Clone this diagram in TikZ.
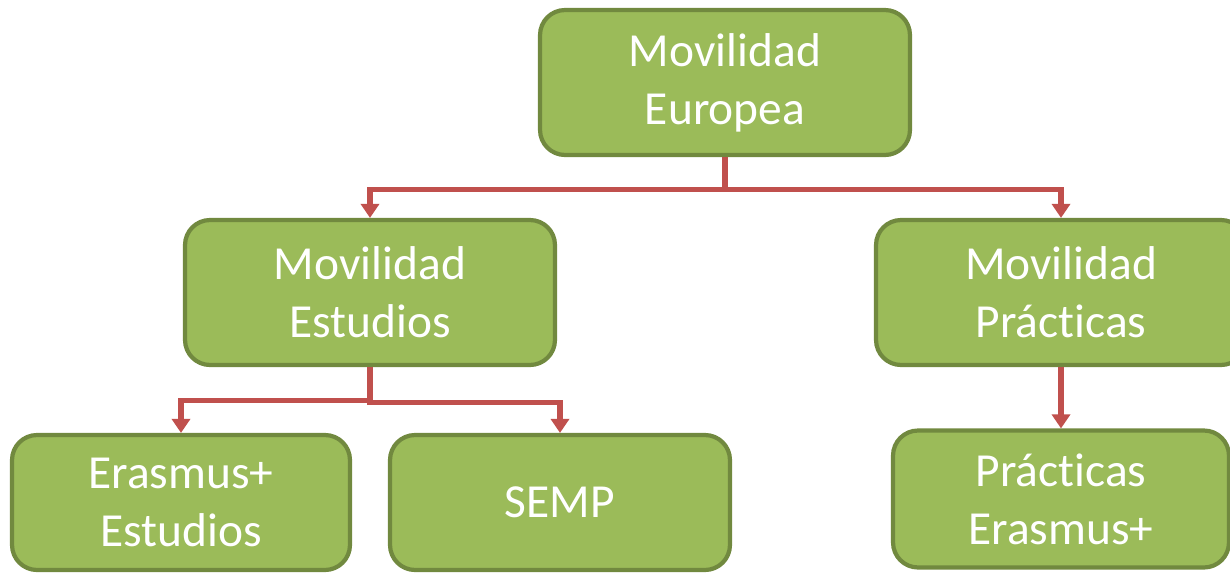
\documentclass[tikz,border=0pt]{standalone}
\usepackage{fontspec}
\setmainfont{Carlito}[Ligatures=NoCommon]
\usetikzlibrary{arrows.meta}

\definecolor{cajaverde}{HTML}{9BBB59}
\definecolor{bordeverde}{HTML}{71893F}
\definecolor{flecharoja}{HTML}{C0504D}

\begin{document}
\begin{tikzpicture}[x=0.02cm, y=-0.02cm,
    caja/.style={rectangle, rounded corners=0.5cm, fill=cajaverde, draw=bordeverde,
        line width=2.4pt, text=white, align=center, inner sep=0pt,
        font=\fontsize{27}{33}\selectfont},
    flecha/.style={draw=flecharoja, line width=2.9pt,
        -{Triangle[length=0.28cm, width=0.36cm]}}]
                \useasboundingbox (0,0) rectangle (1230,572);

                % Los nodos
                \node[caja, minimum width=7.4cm, minimum height=2.9cm] (europa) at (725, 82.5) {Movilidad\\Europea};
                \node[caja, minimum width=7.4cm, minimum height=2.9cm] (estudios) at (370, 292.5) {Movilidad\\Estudios};
                \node[caja, minimum width=7.4cm, minimum height=2.9cm] (practicas) at (1061, 292.5) {Movilidad\\Prácticas};
                \node[caja, minimum width=6.76cm, minimum height=2.7cm] (erasmus) at (181, 502.5) {Erasmus+\\Estudios};
                \node[caja, minimum width=6.8cm, minimum height=2.7cm] (semp) at (560, 502.5) {SEMP};
                \node[caja, minimum width=6.72cm, minimum height=2.74cm] (pracera) at (1061, 499) {Prácticas\\Erasmus+};

                % Las flechas
                \draw[flecha] (europa.south) -- ++(0,32) -| (estudios.north);
                \draw[flecha] (europa.south) -- ++(0,32) -| (practicas.north);
                \draw[flecha] (estudios.south) -- ++(0,33) -| (erasmus.north);
                \draw[flecha] (estudios.south) -- ++(0,35) -| (semp.north);
                \draw[flecha] (practicas.south) -- (pracera.north);
            \end{tikzpicture}
\end{document}
